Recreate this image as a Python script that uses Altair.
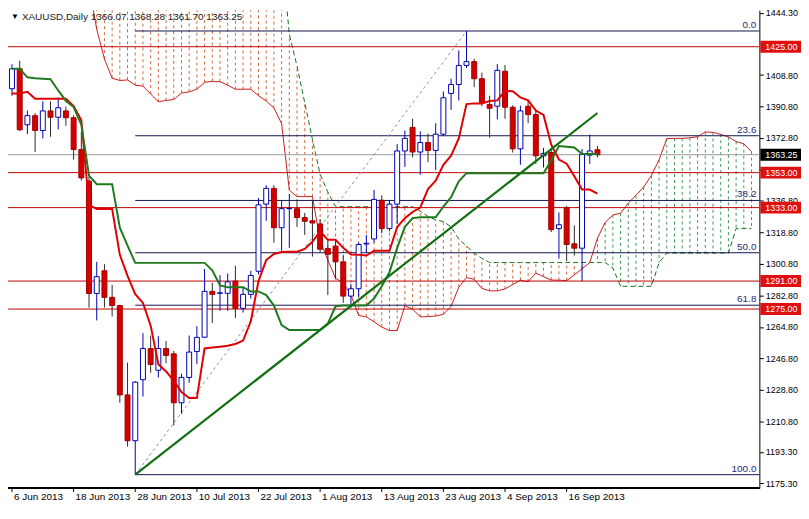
import altair as alt
import pandas as pd

# ---------------- data ----------------
opens = [1401.0, 1412.4, 1380.4, 1385.6, 1377.1, 1388.3, 1384.7, 1388.3, 1384.4, 1366.2,
         1348.2, 1283.9, 1296.9, 1281.7, 1277.0, 1225.9, 1199.7, 1234.6, 1252.4, 1240.0,
         1252.4, 1249.4, 1221.4, 1235.9, 1250.7, 1258.9, 1285.1, 1284.0, 1284.0, 1291.0,
         1275.4, 1283.4, 1296.6, 1335.0, 1344.0, 1321.5, 1332.4, 1332.4, 1327.3, 1325.5,
         1323.7, 1309.6, 1311.0, 1302.0, 1282.4, 1286.6, 1312.2, 1315.1, 1337.2, 1321.0,
         1335.0, 1365.4, 1378.9, 1364.8, 1370.2, 1365.7, 1375.0, 1398.3, 1403.4, 1414.3,
         1416.5, 1406.7, 1392.0, 1391.0, 1411.0, 1390.4, 1366.6, 1391.0, 1386.2, 1362.6,
         1364.5, 1321.0, 1333.1, 1312.3, 1309.8, 1363.0, 1366.07]
highs = [1415.0, 1417.0, 1388.5, 1387.1, 1393.8, 1393.8, 1396.1, 1390.7, 1385.8, 1376.2,
         1350.9, 1302.0, 1300.7, 1288.8, 1277.5, 1244.4, 1233.8, 1261.2, 1259.8, 1259.5,
         1256.7, 1251.0, 1238.0, 1259.8, 1265.2, 1298.0, 1290.0, 1294.4, 1295.3, 1299.8,
         1287.5, 1296.9, 1338.5, 1345.8, 1345.8, 1337.3, 1340.9, 1337.7, 1330.0, 1337.3,
         1326.5, 1313.8, 1314.6, 1306.0, 1289.3, 1312.9, 1317.4, 1343.1, 1340.0, 1337.3,
         1369.3, 1377.1, 1383.8, 1376.6, 1375.3, 1381.2, 1399.4, 1406.7, 1422.9, 1434.0,
         1418.2, 1410.2, 1397.0, 1415.1, 1414.6, 1391.5, 1391.3, 1394.3, 1389.0, 1367.2,
         1367.2, 1330.2, 1334.0, 1322.8, 1366.5, 1374.8, 1368.28]
lows = [1397.0, 1376.8, 1375.0, 1364.8, 1372.6, 1373.5, 1377.7, 1379.8, 1360.5, 1348.5,
        1275.8, 1268.5, 1275.8, 1270.7, 1221.4, 1196.4, 1180.3, 1225.0, 1238.6, 1235.9,
        1244.0, 1208.4, 1215.1, 1232.8, 1243.6, 1258.5, 1267.0, 1274.0, 1274.0, 1269.8,
        1273.0, 1281.0, 1294.8, 1325.5, 1312.9, 1308.3, 1310.0, 1321.9, 1317.4, 1305.0,
        1307.4, 1283.0, 1292.0, 1278.5, 1275.8, 1282.0, 1307.0, 1313.0, 1318.3, 1319.5,
        1323.7, 1356.3, 1361.7, 1351.8, 1359.0, 1354.5, 1374.0, 1388.9, 1394.3, 1412.8,
        1401.9, 1391.0, 1373.0, 1383.5, 1383.8, 1364.5, 1357.5, 1381.3, 1358.0, 1355.9,
        1319.0, 1303.8, 1302.4, 1305.6, 1291.1, 1358.0, 1361.70]
closes = [1412.4, 1377.5, 1385.6, 1377.1, 1388.3, 1384.7, 1390.1, 1384.4, 1366.2, 1350.0,
          1283.9, 1293.5, 1281.7, 1277.0, 1225.9, 1199.7, 1233.2, 1252.4, 1243.3, 1252.4,
          1248.5, 1221.4, 1235.9, 1250.4, 1258.8, 1285.1, 1283.4, 1284.3, 1290.6, 1275.4,
          1283.4, 1294.2, 1334.6, 1344.0, 1321.5, 1332.4, 1332.6, 1327.3, 1325.2, 1324.2,
          1309.2, 1306.3, 1302.0, 1282.4, 1286.6, 1311.9, 1312.6, 1337.7, 1321.0, 1335.0,
          1365.4, 1372.6, 1364.8, 1370.2, 1365.7, 1375.0, 1395.8, 1403.4, 1414.3, 1416.5,
          1406.7, 1392.9, 1389.8, 1411.5, 1390.4, 1366.6, 1388.3, 1386.2, 1362.6, 1364.0,
          1320.4, 1323.2, 1311.9, 1309.8, 1363.4, 1365.4, 1363.25]

tenkan = [1398.3, 1398.3, 1399.2, 1395.2, 1395.2, 1395.2, 1395.2, 1395.2, 1391.0, 1383.0,
          1334.5, 1332.2, 1332.2, 1332.2, 1306.0, 1294.0, 1283.5, 1278.5, 1265.5, 1243.5,
          1239.3, 1234.0, 1227.5, 1224.1, 1224.1, 1252.5, 1253.0, 1253.5, 1254.0, 1255.0,
          1257.0, 1268.0, 1291.0, 1303.0, 1306.5, 1307.6, 1307.8, 1307.8, 1309.4, 1313.5,
          1319.5, 1314.6, 1314.6, 1310.0, 1306.2, 1306.0, 1305.6, 1308.3, 1308.3, 1308.3,
          1321.9, 1327.0, 1330.5, 1333.0, 1343.6, 1348.4, 1357.5, 1362.7, 1372.6, 1392.2,
          1392.6, 1392.6, 1394.0, 1394.3, 1399.8, 1399.5, 1396.0, 1394.3, 1388.5, 1386.0,
          1369.0, 1360.5, 1358.1, 1351.0, 1343.3, 1343.3, 1341.0]
kijun = [1412.4, 1412.4, 1407.5, 1407.0, 1406.7, 1406.4, 1400.0, 1394.0, 1390.5, 1380.5,
         1351.3, 1346.4, 1346.4, 1346.4, 1321.5, 1311.3, 1301.4, 1301.4, 1301.4, 1301.4,
         1301.4, 1301.4, 1301.4, 1301.4, 1301.4, 1301.4, 1297.2, 1288.5, 1287.5, 1287.5,
         1287.5, 1285.1, 1285.1, 1283.0, 1277.0, 1265.8, 1263.0, 1263.0, 1263.0, 1263.0,
         1263.0, 1266.7, 1276.6, 1277.0, 1277.0, 1277.0, 1277.0, 1281.0, 1288.0, 1296.0,
         1310.0, 1322.0, 1327.0, 1327.5, 1327.5, 1327.5, 1333.6, 1339.0, 1348.0, 1352.7,
         1352.7, 1352.7, 1352.7, 1352.7, 1352.7, 1352.7, 1352.7, 1352.7, 1352.7, 1352.7,
         1360.0, 1368.2, 1367.8, 1367.4, 1363.6, 1363.6, 1363.6]

# Senkou spans, bar 10 .. bar 96 (the cloud runs 26 bars past the last candle)
span_first_bar = 10
span_a = [1460.0, 1435.0, 1418.0, 1407.0, 1405.7, 1406.0, 1403.0, 1402.5, 1398.0, 1393.5,
          1394.3, 1394.8, 1398.5, 1399.2, 1400.7, 1404.6, 1405.2, 1405.0, 1403.0, 1400.7,
          1400.7, 1400.7, 1397.0, 1394.0, 1390.0, 1381.0, 1343.0, 1339.3, 1339.3, 1339.3,
          1314.0, 1303.0, 1292.6, 1290.0, 1283.0, 1271.4, 1270.5, 1267.7, 1264.7, 1262.7,
          1262.7, 1276.8, 1275.0, 1270.5, 1270.7, 1271.0, 1272.0, 1276.5, 1287.5, 1293.0,
          1292.0, 1286.8, 1285.4, 1285.4, 1286.5, 1289.0, 1291.5, 1290.6, 1295.6, 1293.5,
          1291.6, 1291.5, 1291.3, 1294.5, 1298.0, 1301.6, 1315.5, 1324.5, 1328.8, 1329.8,
          1335.6, 1340.0, 1344.8, 1351.4, 1360.3, 1372.5, 1372.6, 1372.6, 1372.9, 1373.5,
          1376.3, 1376.0, 1374.9, 1373.4, 1370.8, 1369.5, 1365.0]
span_b = [1480.0, 1480.0, 1480.0, 1480.0, 1480.0, 1480.0, 1480.0, 1480.0, 1480.0, 1480.0,
          1480.0, 1480.0, 1480.0, 1480.0, 1480.0, 1480.0, 1480.0, 1480.0, 1480.0, 1480.0,
          1480.0, 1480.0, 1480.0, 1480.0, 1480.0, 1480.0, 1432.0, 1414.0, 1393.0, 1372.0,
          1352.0, 1342.0, 1333.5, 1333.5, 1333.5, 1333.5, 1333.5, 1333.5, 1333.5, 1333.5,
          1333.5, 1333.5, 1333.5, 1331.0, 1328.0, 1326.0, 1325.0, 1322.0, 1315.0, 1311.0,
          1307.0, 1304.0, 1301.6, 1301.6, 1301.6, 1301.6, 1301.6, 1301.6, 1301.6, 1301.6,
          1301.6, 1301.6, 1301.6, 1301.6, 1301.6, 1301.6, 1301.6, 1301.6, 1298.5, 1288.0,
          1288.0, 1288.0, 1288.0, 1288.0, 1301.5, 1307.0, 1307.0, 1307.0, 1307.0, 1307.0,
          1307.0, 1307.0, 1307.0, 1307.0, 1321.0, 1321.0, 1321.0]

level_prices = [1425.0, 1353.0, 1333.0, 1291.0, 1275.0]
level_labels = ["1425.00", "1353.00", "1333.00", "1291.00", "1275.00"]
current_price = 1363.25
current_label = "1363.25"

fib_levels = [1434.0, 1374.1, 1337.1, 1307.2, 1277.2, 1180.3]
fib_names = ["0.0", "23.6", "38.2", "50.0", "61.8", "100.0"]
fib_from_bar = 16
fib_diag_bars = [16, 59]
fib_diag_prices = [1180.3, 1434.0]
trend_bars = [16, 76]
trend_prices = [1180.3, 1387.1]

axis_values = [1444.3, 1408.8, 1390.8, 1372.8, 1354.8, 1336.8, 1318.8, 1300.8, 1282.8,
               1264.8, 1246.8, 1228.8, 1210.8, 1193.3, 1175.3]
tick_bars = [0, 8, 16, 24, 32, 40, 48, 56, 64, 72]
tick_labels = ["6 Jun 2013", "18 Jun 2013", "28 Jun 2013", "10 Jul 2013", "22 Jul 2013",
               "1 Aug 2013", "13 Aug 2013", "23 Aug 2013", "4 Sep 2013", "16 Sep 2013"]
title_text = "XAUUSD,Daily  1366.07 1368.28 1361.70 1363.25"

# ---------------- tables ----------------
bars = pd.DataFrame({"i": list(range(len(opens))), "o": opens, "h": highs,
                     "l": lows, "c": closes, "tk": tenkan, "kj": kijun})
cloud = pd.DataFrame({"i": list(range(span_first_bar, span_first_bar + len(span_a))),
                      "a": span_a, "b": span_b})
levels = pd.DataFrame({"p": level_prices, "t": level_labels})
cur = pd.DataFrame({"p": [current_price], "t": [current_label]})
fib = pd.DataFrame({"p": fib_levels, "t": fib_names, "s": [fib_from_bar] * len(fib_levels)})
fibd = pd.DataFrame({"i": fib_diag_bars, "p": fib_diag_prices})
trend = pd.DataFrame({"i": trend_bars, "p": trend_prices})
ticks = pd.DataFrame({"i": tick_bars, "t": tick_labels})

# ---------------- chart ----------------
W, H = 758, 482
FONT = "Liberation Sans"
xs = alt.Scale(domain=[0.125, 96.375], nice=False, zero=False)
ys = alt.Scale(domain=[1172.7, 1445.9], nice=False, zero=False)
yaxis = alt.Axis(orient="right", values=axis_values, format=".2f", tickSize=4,
                 tickColor="#000000", domainColor="#000000", labelColor="#000000",
                 labelFont=FONT, labelFontSize=9, labelPadding=2, grid=False,
                 title="", labelOverlap=False, labelFlush=False)


def ex(f):
    return alt.X(f + ":Q", scale=xs, axis=None)


def ey(f):
    return alt.Y(f + ":Q", scale=ys, axis=yaxis)


RED_DOT = "#d2693c"
GREEN_DOT = "#3a9a5a"

cloud_rules = alt.Chart(cloud).mark_rule(strokeDash=[3, 3], strokeWidth=1, clip=True).encode(
    x=ex("i"), y=ey("a"), y2="b:Q",
    color=alt.condition("datum.b > datum.a", alt.value(RED_DOT), alt.value(GREEN_DOT)))
span_a_line = alt.Chart(cloud).mark_line(color="#c81e1e", strokeWidth=1, clip=True).encode(
    x=ex("i"), y=ey("a"))
span_b_line = alt.Chart(cloud).mark_line(color="#1e6e1e", strokeWidth=1, strokeDash=[5, 3],
                                         clip=True).encode(x=ex("i"), y=ey("b"))

red_lines = alt.Chart(levels).mark_rule(color="#c00000", strokeWidth=1).encode(y=ey("p"))
cur_line = alt.Chart(cur).mark_rule(color="#9a9a9a", strokeWidth=1).encode(y=ey("p"))
fib_lines = alt.Chart(fib).mark_rule(color="#141450", strokeWidth=1).encode(
    x=ex("s"), x2=alt.value(W), y=ey("p"))
fib_text = alt.Chart(fib).mark_text(align="right", baseline="bottom", dy=-1, fontSize=10,
                                    font=FONT, color="#1e2c70").encode(
    x=alt.value(W - 3), y=ey("p"), text="t:N")
fib_diag = alt.Chart(fibd).mark_line(color="#7f8fb8", strokeWidth=1, strokeDash=[3, 3]).encode(
    x=ex("i"), y=ey("p"))

bull = "datum.c >= datum.o"
wicks = alt.Chart(bars).mark_rule(strokeWidth=1, clip=True).encode(
    x=ex("i"), y=ey("l"), y2="h:Q",
    color=alt.condition(bull, alt.value("#0000b4"), alt.value("#2a2a2a")))
bodies = alt.Chart(bars).mark_bar(size=5, strokeWidth=1, clip=True).encode(
    x=ex("i"), y=ey("o"), y2="c:Q",
    fill=alt.condition(bull, alt.value("#ffffff"), alt.value("#d40000")),
    stroke=alt.condition(bull, alt.value("#0000b4"), alt.value("#a00000")))

tk_line = alt.Chart(bars).mark_line(color="#e00000", strokeWidth=2, clip=True).encode(
    x=ex("i"), y=ey("tk"))
kj_line = alt.Chart(bars).mark_line(color="#1f7a1f", strokeWidth=2, clip=True).encode(
    x=ex("i"), y=ey("kj"))
trend_line = alt.Chart(trend).mark_line(color="#127012", strokeWidth=2.2).encode(
    x=ex("i"), y=ey("p"))

lvl_box = alt.Chart(levels).mark_rect(color="#e01010", yOffset=-6, y2Offset=6).encode(
    x=alt.value(W + 1), x2=alt.value(W + 45), y=ey("p"), y2="p:Q")
lvl_txt = alt.Chart(levels).mark_text(align="left", baseline="middle", fontSize=9, font=FONT,
                                      color="#ffffff").encode(
    x=alt.value(W + 6), y=ey("p"), text="t:N")
cur_box = alt.Chart(cur).mark_rect(color="#000000", yOffset=-6, y2Offset=6).encode(
    x=alt.value(W + 1), x2=alt.value(W + 45), y=ey("p"), y2="p:Q")
cur_txt = alt.Chart(cur).mark_text(align="left", baseline="middle", fontSize=9, font=FONT,
                                   color="#ffffff").encode(
    x=alt.value(W + 6), y=ey("p"), text="t:N")

x_ticks = alt.Chart(ticks).mark_rule(color="#000000").encode(
    x=ex("i"), y=alt.value(H), y2=alt.value(H + 4))
x_text = alt.Chart(ticks).mark_text(align="left", baseline="middle", dx=2, fontSize=10,
                                    font=FONT, color="#000000").encode(
    x=ex("i"), y=alt.value(H + 9), text="t:N")
bottom = alt.Chart(ticks).mark_rule(color="#000000").encode(
    x=alt.value(0), x2=alt.value(W), y=alt.value(H))

title_df = pd.DataFrame({"t": [title_text]})
tri = alt.Chart(title_df).mark_text(text="\u25bc", fontSize=8, color="#000000", align="left",
                                    baseline="middle").encode(x=alt.value(3), y=alt.value(7))
title = alt.Chart(title_df).mark_text(align="left", baseline="middle", fontSize=10, font=FONT,
                                      color="#1a1a1a").encode(
    x=alt.value(14), y=alt.value(7), text="t:N")

chart = alt.layer(
    cloud_rules, span_a_line, span_b_line,
    red_lines, cur_line, fib_lines, fib_text, fib_diag,
    wicks, bodies, tk_line, kj_line, trend_line,
    lvl_box, lvl_txt, cur_box, cur_txt,
    x_ticks, x_text, bottom, tri, title,
).properties(
    width=W, height=H,
    autosize=alt.AutoSizeParams(type="none"),
    padding={"left": 0, "top": 0, "right": 42, "bottom": 15},
).configure_view(strokeWidth=0)

chart.save("out.html", embed_options={"renderer": "svg", "actions": False})
